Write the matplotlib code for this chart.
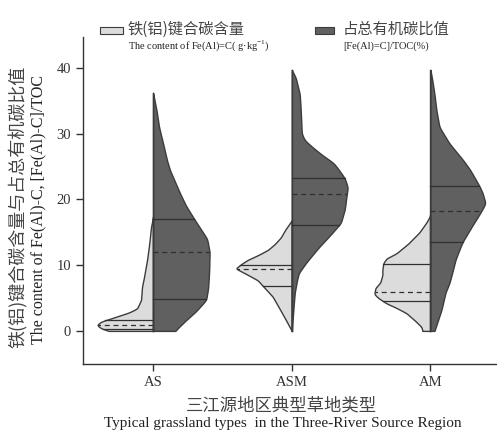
import matplotlib
matplotlib.use("Agg")
import matplotlib.pyplot as plt
from matplotlib.patches import Rectangle
import numpy as np

# categorias
grupos = ["AS", "ASM", "AM"]

# perfiles de los violines: (valor y, semi-ancho en px de la figura original)
AS_claro_y = [0.0, 0.4, 0.9, 1.4, 1.8, 2.3, 2.8, 3.4, 4.7, 6.7, 8.2, 10.8, 13.0, 15.8, 17.3]
AS_claro_w = [44, 52, 56, 52, 44, 34, 24, 16, 12, 11, 9, 6, 4, 2, 0]
AS_oscuro_y = [0.0, 1.5, 3.0, 4.7, 6.5, 9.0, 12.0, 14.0, 16.8, 19.0, 20.9, 24.4, 25.9, 28.5, 31.0, 33.5, 36.2]
AS_oscuro_w = [22, 32, 43, 53, 55, 56, 56.5, 54, 42, 33, 27, 17, 14, 10, 6, 3.5, 0]

ASM_claro_y = [0.0, 1.7, 3.6, 5.2, 6.7, 7.7, 8.7, 9.5, 10.2, 10.8, 11.5, 12.3, 13.2, 14.2, 15.5, 16.8]
ASM_claro_w = [0, 6, 13, 19, 28, 34, 46, 56, 50, 44, 34, 24, 17, 11, 6, 0]
ASM_oscuro_y = [0.0, 2.0, 4.0, 5.8, 7.5, 8.8, 10.5, 12.7, 14.5, 16.4, 18.5, 20.9, 21.8, 23.2, 24.5, 25.5,
                26.8, 27.9, 29.0, 30.0, 33.5, 36.0, 38.5, 39.7]
ASM_oscuro_w = [0, 1, 2, 3, 5, 7, 15, 27, 38, 49, 53, 55, 56, 53, 47, 42, 30, 21, 13, 10, 9, 8, 4, 0]

AM_claro_y = [0.0, 0.6, 1.5, 2.7, 3.5, 4.2, 5.0, 5.6, 6.5, 7.4, 8.5, 9.3, 10.3, 11.0, 11.8, 13.3, 15.0, 16.5, 17.6]
AM_claro_w = [8, 9, 15, 24, 34, 44, 52, 56, 55, 50, 48, 48, 47, 44, 34, 22, 11, 4, 0]
AM_oscuro_y = [0.0, 3.2, 5.8, 7.3, 9.0, 10.8, 12.0, 13.5, 15.8, 18.0, 19.4, 21.0, 22.0, 24.4, 25.9,
               28.5, 31.0, 33.5, 36.0, 38.0, 39.7]
AM_oscuro_w = [4, 11, 15, 19, 22, 25, 28, 32, 41, 50, 55, 52, 49, 40, 33, 19, 9, 6, 4, 2, 0]

# cuartiles (Q1, mediana, Q3)
cuart_claro = [(0.3, 0.9, 1.6), (6.8, 9.4, 10.0), (4.5, 5.9, 10.1)]
cuart_oscuro = [(4.85, 12.0, 17.0), (16.1, 20.8, 23.2), (13.5, 18.3, 22.0)]

perfiles_claro = [(AS_claro_y, AS_claro_w), (ASM_claro_y, ASM_claro_w), (AM_claro_y, AM_claro_w)]
perfiles_oscuro = [(AS_oscuro_y, AS_oscuro_w), (ASM_oscuro_y, ASM_oscuro_w), (AM_oscuro_y, AM_oscuro_w)]

PX = 138.5  # px por unidad en x
claro = "#dcdcdc"
oscuro = "#606060"
borde = "#3c3c3c"

serif = ["Liberation Serif", "DejaVu Serif"]
cjk = ["Noto Sans CJK SC", "DejaVu Sans"]

fig = plt.figure(figsize=(4.97, 4.30), dpi=100)
ax = fig.add_axes([0.167, 0.154, 0.833, 0.76])


def suavizar(ys, ws):
    # solo para dibujar el contorno mas suave
    yy = np.linspace(ys[0], ys[-1], 400)
    ww = np.interp(yy, ys, ws)
    k = np.hanning(15)
    k = k / k.sum()
    pad = np.concatenate([np.full(7, ww[0]), ww, np.full(7, ww[-1])])
    ww2 = np.convolve(pad, k, mode="valid")
    ww2[0] = ww[0]
    ww2[-1] = ww[-1]
    return yy, ww2


def media_violin(ax, x0, ys, ws, lado, color, cuarts):
    ys = np.array(ys)
    ws = np.array(ws) / PX
    yy, ww = suavizar(ys, ws)
    if lado < 0:
        ax.fill_betweenx(yy, x0 - ww, x0, facecolor=color, edgecolor=borde, linewidth=1.0, zorder=2)
    else:
        ax.fill_betweenx(yy, x0, x0 + ww, facecolor=color, edgecolor=borde, linewidth=1.0, zorder=2)
    ax.plot([x0, x0], [yy.min(), yy.max()], color=borde, lw=1.0, zorder=3)
    for i, q in enumerate(cuarts):
        w = np.interp(q, yy, ww)
        if i == 1:
            ax.plot([x0, x0 + lado * w], [q, q], color="#303030", lw=0.9, ls="--", dashes=(4, 3), zorder=3)
        else:
            ax.plot([x0, x0 + lado * w], [q, q], color="#303030", lw=0.9, zorder=3)


for i in range(len(grupos)):
    media_violin(ax, i, perfiles_claro[i][0], perfiles_claro[i][1], -1, claro, cuart_claro[i])
    media_violin(ax, i, perfiles_oscuro[i][0], perfiles_oscuro[i][1], 1, oscuro, cuart_oscuro[i])

ax.set_xlim(-0.505, 2.48)
ax.set_ylim(-5.0, 44.7)
ax.set_xticks(range(len(grupos)))
ax.set_xticklabels(grupos, family=serif, fontsize=10.5)
ax.set_yticks([0, 10, 20, 30, 40])
ax.set_yticklabels(["0", "10", "20", "30", "40"], family=serif, fontsize=10.5)
ax.spines["top"].set_visible(False)
ax.spines["right"].set_visible(False)
for s in ["left", "bottom"]:
    ax.spines[s].set_linewidth(1.0)
    ax.spines[s].set_color("#333333")
ax.tick_params(direction="out", length=5, width=1.0, colors="#333333", labelcolor="#333333")

# etiquetas de ejes
fig.text(0.036, 0.52, "铁(铝)键合碳含量与占总有机碳比值", rotation=90, ha="center", va="center",
         family=cjk, fontsize=13, color="#444444")
fig.text(0.078, 0.513, "The content of Fe(Al)-C, [Fe(Al)-C]/TOC", rotation=90, ha="center", va="center",
         family=serif, fontsize=11.5, color="#222222")
fig.text(0.567, 0.056, "三江源地区典型草地类型", ha="center", va="center",
         family=cjk, fontsize=12.5, color="#444444")
fig.text(0.569, 0.016, "Typical grassland types  in the Three-River Source Region", ha="center", va="center",
         family=serif, fontsize=11, color="#222222")

# leyenda manual
fig.patches.append(Rectangle((100 / 497, 1 - 34 / 430), 23 / 497, 7 / 430, transform=fig.transFigure,
                             facecolor=claro, edgecolor=borde, linewidth=0.8))
fig.patches.append(Rectangle((315 / 497, 1 - 34 / 430), 19 / 497, 7 / 430, transform=fig.transFigure,
                             facecolor=oscuro, edgecolor=borde, linewidth=0.8))
fig.text(128 / 497, 1 - 29 / 430, "铁(铝)键合碳含量", ha="left", va="center",
         family=cjk, fontsize=11, color="#444444")
fig.text(128 / 497, 1 - 46 / 430, "The content of Fe(Al)=C( g·kg$^{\\mathregular{-1}}$)", ha="left", va="center",
         family=serif, fontsize=7.5, color="#222222")
fig.text(343 / 497, 1 - 29 / 430, "占总有机碳比值", ha="left", va="center",
         family=cjk, fontsize=11, color="#444444")
fig.text(343 / 497, 1 - 46 / 430, "[Fe(Al)=C]/TOC(%)", ha="left", va="center",
         family=serif, fontsize=7.5, color="#222222")

fig.savefig("out.png", dpi=100)
